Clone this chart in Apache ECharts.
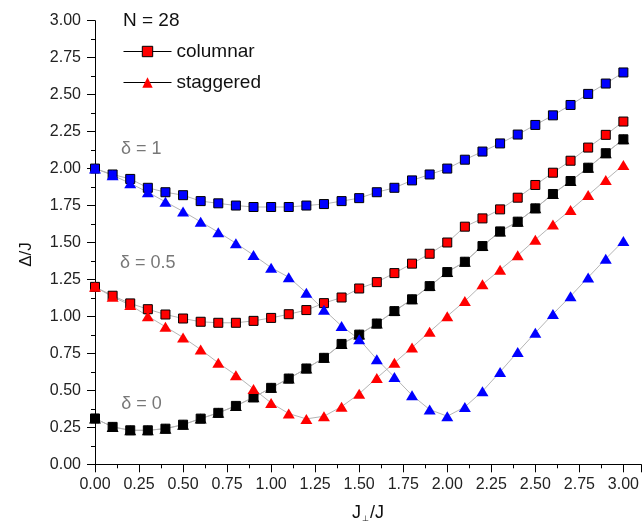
<!DOCTYPE html>
<html><head><meta charset="utf-8">
<script src="https://cdn.jsdelivr.net/npm/echarts@6/dist/echarts.min.js"></script>
<style>html,body{margin:0;padding:0;background:#fff}#c{width:642px;height:529px}</style>
</head><body><div id="c"></div>
<script>
// J_perp / J values
const xValues = [0.0,0.1,0.2,0.3,0.4,0.5,0.6,0.7,0.8,0.9,1.0,1.1,1.2,1.3,1.4,1.5,1.6,1.7,1.8,1.9,2.0,2.1,2.2,2.3,2.4,2.5,2.6,2.7,2.8,2.9,3.0];
// delta = 1
const columnarD1 = [2.00,1.96,1.93,1.87,1.84,1.82,1.78,1.765,1.75,1.74,1.74,1.74,1.75,1.76,1.78,1.80,1.84,1.87,1.92,1.96,2.00,2.06,2.115,2.17,2.23,2.295,2.36,2.43,2.505,2.575,2.65];
const staggeredD1 = [2.00,1.955,1.90,1.84,1.775,1.71,1.64,1.57,1.495,1.415,1.33,1.265,1.16,1.045,0.935,0.845,0.71,0.59,0.467,0.37,0.325,0.388,0.494,0.625,0.76,0.889,1.016,1.137,1.264,1.39,1.51];
// delta = 0.5
const columnarD05 = [1.20,1.14,1.088,1.049,1.013,0.986,0.964,0.957,0.957,0.97,0.99,1.015,1.043,1.09,1.128,1.189,1.232,1.293,1.357,1.424,1.50,1.607,1.663,1.724,1.803,1.889,1.972,2.053,2.142,2.228,2.318];
const staggeredD05 = [1.20,1.133,1.077,1.002,0.93,0.858,0.776,0.686,0.603,0.51,0.415,0.343,0.307,0.325,0.39,0.477,0.584,0.686,0.79,0.896,1.002,1.104,1.217,1.315,1.413,1.519,1.622,1.720,1.821,1.923,2.024];
// delta = 0 (columnar and staggered coincide)
const columnarD0 = [0.31,0.253,0.23,0.23,0.241,0.268,0.309,0.348,0.395,0.453,0.517,0.58,0.648,0.72,0.814,0.877,0.952,1.036,1.116,1.205,1.30,1.37,1.476,1.575,1.641,1.731,1.828,1.916,2.006,2.104,2.198];
const staggeredD0 = [0.31,0.253,0.23,0.23,0.241,0.268,0.309,0.348,0.395,0.453,0.517,0.58,0.648,0.72,0.814,0.877,0.952,1.036,1.116,1.205,1.30,1.37,1.476,1.575,1.641,1.731,1.828,1.916,2.006,2.104,2.198];
// annotation labels [x, y, text]
const annotations = [[0.263,2.135,'δ = 1'],[0.30,1.361,'δ = 0.5'],[0.264,0.408,'δ = 0']];
const legendTitle = 'N = 28';

const FONT = '"Liberation Sans", Arial, sans-serif';
const pair = arr => xValues.map((x, i) => [x, arr[i]]);
const lineGray = {color: '#b5b5b5', width: 1};

function sq(name, arr, color) {
  return {name, type: 'line', data: pair(arr), symbol: 'rect', symbolSize: 9,
    itemStyle: {color, borderColor: '#000', borderWidth: 1}, lineStyle: lineGray, silent: true};
}
function tri(name, arr, color) {
  return {name, type: 'line', data: pair(arr), symbol: 'triangle', symbolSize: [12, 10],
    itemStyle: {color, borderWidth: 0}, lineStyle: lineGray, silent: true};
}

const chart = echarts.init(document.getElementById('c'), null, {renderer: 'canvas'});
chart.setOption({
  animation: false,
  backgroundColor: '#fff',
  title: {text: legendTitle, left: 123, top: 11, padding: 0,
    textStyle: {fontFamily: FONT, fontSize: 19, fontWeight: 'normal', color: '#111'}},
  legend: {orient: 'vertical', left: 123, top: 42, padding: 0, itemWidth: 48, itemHeight: 13, itemGap: 12,
    selectedMode: false,
    lineStyle: {color: '#000', width: 1},
    textStyle: {fontFamily: FONT, fontSize: 19, color: '#111'},
    data: [
      {name: 'columnar', itemStyle: {color: '#ff0000', borderColor: '#000', borderWidth: 1}},
      {name: 'staggered', itemStyle: {color: '#ff0000', borderWidth: 0}}
    ]},
  grid: {left: 95, right: 1, top: 20.7, bottom: 64.7, containLabel: false},
  xAxis: {type: 'value', min: 0, max: 3.1, interval: 0.25,
    name: '{a|J}{s|⊥}{a|/J}', nameLocation: 'middle', nameGap: 40,
    nameTextStyle: {rich: {a: {fontFamily: FONT, fontSize: 18, color: '#111'},
      s: {fontFamily: FONT, fontSize: 8, color: '#111', padding: [10, 1, 0, 1]}}},
    axisLine: {lineStyle: {color: '#000', width: 1}},
    axisTick: {length: 8, lineStyle: {color: '#000'}},
    minorTick: {show: true, splitNumber: 2, length: 4, lineStyle: {color: '#000'}},
    splitLine: {show: false},
    axisLabel: {showMaxLabel: false, margin: 12, fontFamily: FONT, fontSize: 16, color: '#222',
      formatter: v => (Math.abs(v / 0.25 - Math.round(v / 0.25)) < 1e-6 ? v.toFixed(2) : '')}},
  yAxis: {type: 'value', min: 0, max: 3, interval: 0.25,
    name: 'Δ/J', nameLocation: 'middle', nameGap: 60, nameRotate: 90,
    nameTextStyle: {fontFamily: FONT, fontSize: 17, color: '#111', padding: [0, 24, 0, 0]},
    axisLine: {show: true, lineStyle: {color: '#000', width: 1}},
    axisTick: {show: true, length: 8, lineStyle: {color: '#000'}},
    minorTick: {show: true, splitNumber: 2, length: 4, lineStyle: {color: '#000'}},
    splitLine: {show: false},
    axisLabel: {margin: 14, fontFamily: FONT, fontSize: 16, color: '#222', formatter: v => v.toFixed(2)}},
  series: [
    tri('staggered δ=0', staggeredD0, '#000000'),
    sq('columnar δ=0', columnarD0, '#000000'),
    sq('columnar', columnarD05, '#ff0000'),
    tri('staggered', staggeredD05, '#ff0000'),
    sq('columnar δ=1', columnarD1, '#0000ff'),
    tri('staggered δ=1', staggeredD1, '#0000ff'),
    {name: 'labels', type: 'scatter', data: annotations, symbolSize: 1, silent: true,
      itemStyle: {color: 'rgba(0,0,0,0)'},
      label: {show: true, position: 'inside', formatter: p => p.data[2],
        fontFamily: FONT, fontSize: 18, color: '#555'}}
  ]
});
</script>
</body></html>
